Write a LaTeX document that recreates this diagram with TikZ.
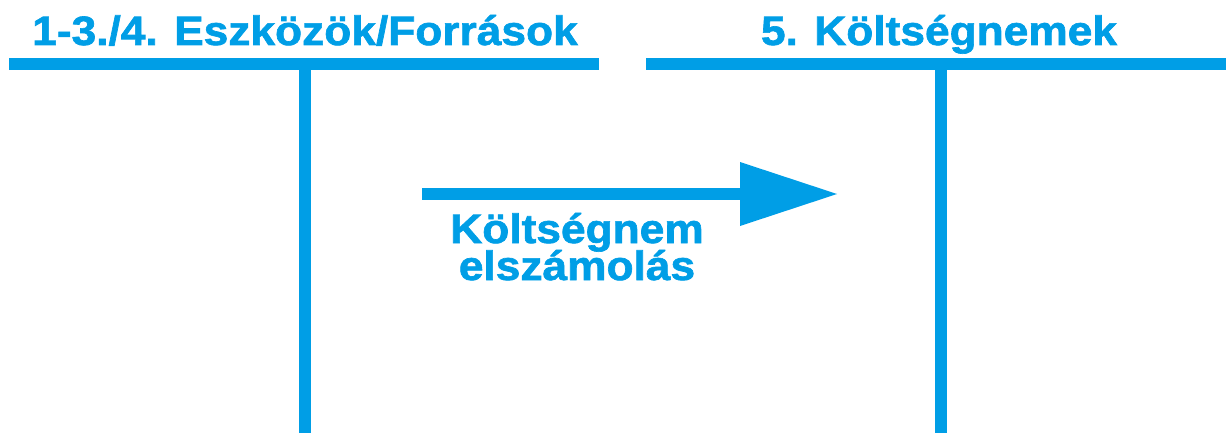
\documentclass[tikz,border=0pt]{standalone}
\usepackage{fontspec}
\setmainfont{Liberation Sans}[FakeStretch=1.08, BoldFeatures={FakeBold=1.6}]
\usepackage{tikz}
\usetikzlibrary{arrows.meta}
\definecolor{kekszin}{RGB}{0,158,230}

\begin{document}
\begin{tikzpicture}[x=0.5pt, y=-0.5pt,
        szamla/.style={line width=6pt, color=kekszin},
        cim/.style={font=\bfseries\fontsize{20.5}{24}\selectfont, text=kekszin, anchor=base, inner sep=0pt}]
                \useasboundingbox (0,0) rectangle (1226,433);
                % eszkozok/forrasok szamla
                \draw[szamla] (9,64) -- (599,64);
                \draw[szamla] (305,64) -- (305,433);
                \node[cim] (eszkozok) at (305,45) {1-3./4. Eszközök/Források};
                % koltsegnemek szamla
                \draw[szamla] (646,64) -- (1226,64);
                \draw[szamla] (941,64) -- (941,433);
                \node[cim] (koltsegnemek) at (939,45) {5. Költségnemek};
                % konyveles
                \coordinate (honnan) at (422,194);
                \coordinate (hova) at (837,194);
                \draw[szamla, -{Triangle[length=48.5pt, width=32pt, line width=0pt]}] (honnan) -- (hova);
                \node[cim] (elszamolas1) at (577,243) {Költségnem};
                \node[cim] (elszamolas2) at (577,280) {elszámolás};
            \end{tikzpicture}
\end{document}
